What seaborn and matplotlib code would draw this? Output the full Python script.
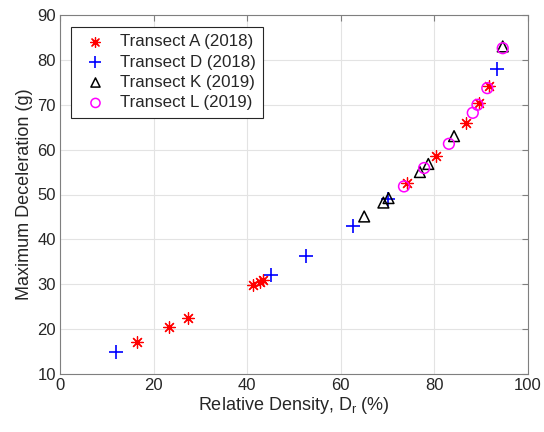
import matplotlib
matplotlib.use("Agg")
import matplotlib.pyplot as plt
import seaborn as sns
import pandas as pd

# Data
a_x = [16.4, 23.3, 27.3, 41.3, 42.7, 43.3, 74.2, 80.3, 86.7, 89.5, 91.6]
a_y = [17.1, 20.4, 22.4, 29.9, 30.6, 31.0, 52.5, 58.6, 66.0, 70.3, 74.2]

d_x = [12.0, 45.1, 52.6, 62.5, 70.0, 93.3]
d_y = [15.0, 32.1, 36.3, 43.0, 49.0, 78.0]

k_x = [65.0, 69.1, 70.2, 76.9, 78.7, 84.2, 94.6]
k_y = [45.1, 48.2, 49.2, 55.0, 56.8, 63.0, 83.0]

l_x = [73.5, 77.8, 83.1, 88.2, 89.2, 91.3, 94.6]
l_y = [51.8, 55.9, 61.3, 68.2, 70.0, 73.7, 82.6]

labels = ["Transect A (2018)", "Transect D (2018)", "Transect K (2019)", "Transect L (2019)"]

x_ticks = [0, 20, 40, 60, 80, 100]
y_ticks = [10, 20, 30, 40, 50, 60, 70, 80, 90]

sns.set_style("white")
plt.rcParams["font.family"] = ["Liberation Sans", "DejaVu Sans"]
plt.rcParams["mathtext.fontset"] = "custom"
plt.rcParams["mathtext.rm"] = "Liberation Sans"

fig = plt.figure(figsize=(5.44, 4.32), dpi=100)
ax = fig.add_axes([60/544, 1-374/432, 468/544, 359/432])

axis_col = "#262626"
grid_col = "#e3e3e3"

frames = [
    pd.DataFrame({"x": a_x, "y": a_y}),
    pd.DataFrame({"x": d_x, "y": d_y}),
    pd.DataFrame({"x": k_x, "y": k_y}),
    pd.DataFrame({"x": l_x, "y": l_y}),
]

# Transect A: MATLAB-like asterisk
sns.scatterplot(data=frames[0], x="x", y="y", ax=ax, marker=(8, 2, 0), s=70,
                color="red", edgecolor="red", linewidth=0.9, label=labels[0], zorder=3)
sns.scatterplot(data=frames[1], x="x", y="y", ax=ax, marker="+", s=95,
                color="blue", edgecolor="blue", linewidth=1.2, label=labels[1], zorder=3)
sns.scatterplot(data=frames[2], x="x", y="y", ax=ax, marker="^", s=60,
                facecolor="none", edgecolor="black", linewidth=1.1, label=labels[2], zorder=3)
sns.scatterplot(data=frames[3], x="x", y="y", ax=ax, marker="o", s=60,
                facecolor="none", edgecolor="#ff00ff", linewidth=1.1, label=labels[3], zorder=3)

ax.set_xlim(0, 100)
ax.set_ylim(10, 90)
ax.set_xticks(x_ticks)
ax.set_yticks(y_ticks)
ax.grid(True, color=grid_col, linewidth=0.8)
ax.set_axisbelow(True)
for sp in ax.spines.values():
    sp.set_visible(True)
    sp.set_color("#7f7f7f")
    sp.set_linewidth(0.8)
ax.tick_params(direction="in", length=4, width=0.8, color="#7f7f7f",
               top=True, right=True, labelsize=12, labelcolor=axis_col, pad=3)

ax.set_xlabel("Relative Density, D$_\\mathregular{r}$ (%)", fontsize=13, color=axis_col, labelpad=1)
ax.set_ylabel("Maximum Deceleration (g)", fontsize=13, color=axis_col, labelpad=3)

leg = ax.legend(loc="upper left", bbox_to_anchor=(11/468, 1-12/359), fontsize=12.2,
                frameon=True, fancybox=False, framealpha=1, edgecolor="#262626",
                borderpad=0.42, labelspacing=0.32, handletextpad=0.45, borderaxespad=0,
                handlelength=2.05, markerscale=0.85)
leg.get_frame().set_linewidth(0.8)
for t in leg.get_texts():
    t.set_color(axis_col)

fig.savefig("out.png", dpi=100)
